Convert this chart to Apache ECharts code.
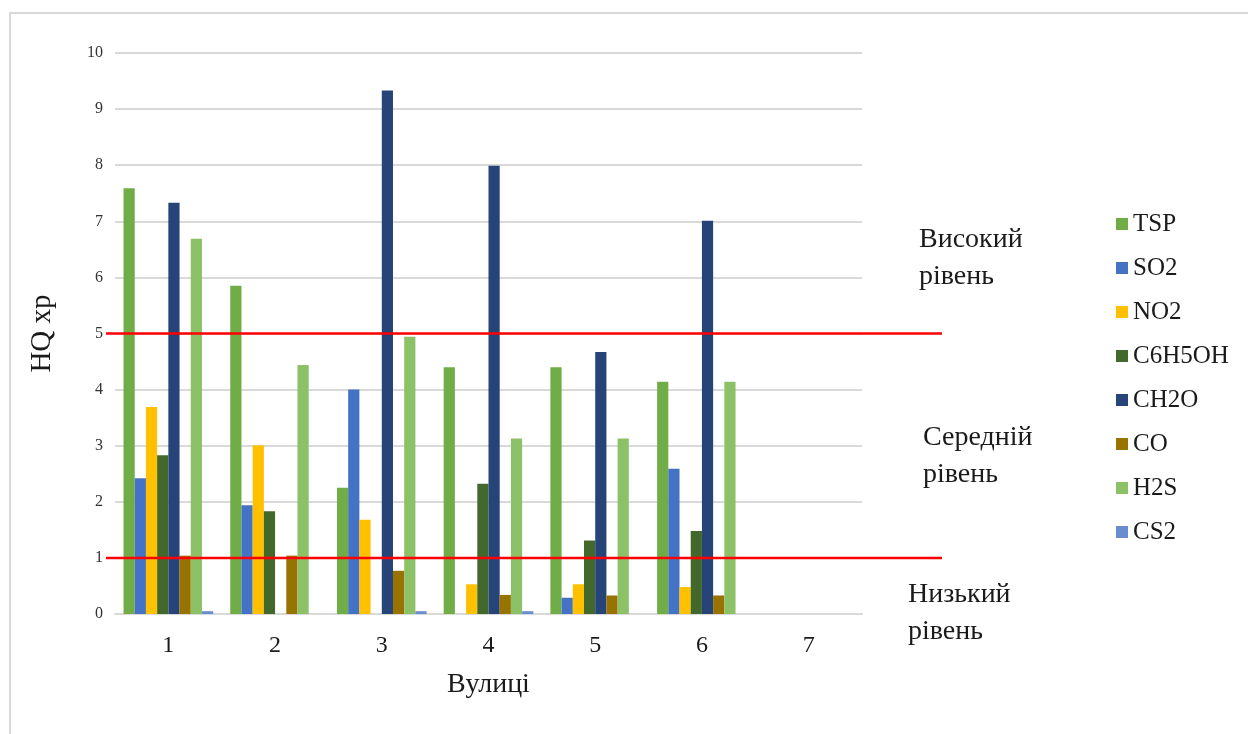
<!DOCTYPE html>
<html>
<head>
<meta charset="utf-8">
<script src="https://cdn.jsdelivr.net/npm/echarts@6/dist/echarts.min.js"></script>
<style>
html,body{margin:0;padding:0;background:#fff;}
#chart{width:1248px;height:734px;}
</style>
</head>
<body>
<div id="chart"></div>
<script>
var categories = ['1','2','3','4','5','6','7'];
var seriesNames = ['TSP','SO2','NO2','C6H5OH','CH2O','CO','H2S','CS2'];
var TSP    = [7.59, 5.85, 2.25, 4.40, 4.40, 4.14, 0];
var SO2    = [2.42, 1.94, 4.00, 0,    0.29, 2.59, 0];
var NO2    = [3.69, 3.01, 1.68, 0.53, 0.53, 0.48, 0];
var C6H5OH = [2.83, 1.83, 0,    2.32, 1.31, 1.48, 0];
var CH2O   = [7.33, 0,    9.33, 7.99, 4.67, 7.01, 0];
var CO     = [1.04, 1.04, 0.77, 0.34, 0.33, 0.33, 0];
var H2S    = [6.69, 4.44, 4.94, 3.13, 3.13, 4.14, 0];
var CS2    = [0.05, 0,    0.05, 0.05, 0,    0,    0];
var seriesValues = [TSP, SO2, NO2, C6H5OH, CH2O, CO, H2S, CS2];
var colors = ['#70AD47','#4472C4','#FFC000','#43682B','#264478','#997300','#8CC168','#698ED0'];
var yTicks = {min: 0, max: 10, interval: 1};
var thresholds = [5, 1];
var levelLabels = [
  {text: 'Високий\nрівень', value: 6.35, x: 919},
  {text: 'Середній\nрівень', value: 2.81, x: 923},
  {text: 'Низький\nрівень', value: 0.01, x: 908}
];

var FONT = '"Liberation Serif", "Times New Roman", serif';
var chart = echarts.init(document.getElementById('chart'), null, {renderer: 'canvas'});

var series = seriesNames.map(function (n, i) {
  return {
    name: n, type: 'bar', data: seriesValues[i],
    barGap: '0%', barCategoryGap: '16%',
    itemStyle: {color: colors[i]},
    emphasis: {disabled: true}
  };
});

var option = {
  animation: false,
  backgroundColor: '#fff',
  color: colors,
  grid: {left: 115, right: 386, top: 53, bottom: 120},
  legend: {
    orient: 'vertical', left: 1116, top: 211, padding: 0,
    icon: 'rect', itemWidth: 12, itemHeight: 12, itemGap: 18,
    textStyle: {fontFamily: FONT, fontSize: 25, color: '#1a1a1a', lineHeight: 26},
    data: seriesNames
  },
  xAxis: {
    type: 'category', data: categories,
    name: 'Вулиці', nameLocation: 'middle', nameGap: 57,
    nameTextStyle: {fontFamily: FONT, fontSize: 28, color: '#1a1a1a'},
    axisLine: {lineStyle: {color: '#d9d9d9', width: 2}},
    axisTick: {show: false},
    axisLabel: {fontFamily: FONT, fontSize: 24, color: '#1a1a1a', margin: 20}
  },
  yAxis: {
    type: 'value', min: yTicks.min, max: yTicks.max, interval: yTicks.interval,
    name: 'HQ xp', nameLocation: 'middle', nameGap: 58,
    nameTextStyle: {fontFamily: FONT, fontSize: 29, color: '#1a1a1a'},
    axisLine: {show: false}, axisTick: {show: false},
    axisLabel: {fontFamily: FONT, fontSize: 16, color: '#333', margin: 12},
    splitLine: {lineStyle: {color: '#d9d9d9', width: 2}}
  },
  series: series
};
chart.setOption(option);

var graphics = [
  {type: 'polyline', shape: {points: [[10, 734], [10, 13], [1248, 13]]}, style: {stroke: '#d9d9d9', lineWidth: 2, fill: null}, z: 100}
];
thresholds.forEach(function (t) {
  var y = chart.convertToPixel({yAxisIndex: 0}, t);
  graphics.push({type: 'line', shape: {x1: 106, y1: y, x2: 942, y2: y}, style: {stroke: '#ff0000', lineWidth: 2.5}, z: 100});
});
levelLabels.forEach(function (l) {
  var y = chart.convertToPixel({yAxisIndex: 0}, l.value);
  graphics.push({type: 'text', x: l.x, y: y, style: {text: l.text, fontFamily: FONT, fontSize: 28, lineHeight: 37, fill: '#1a1a1a', verticalAlign: 'middle', align: 'left'}, z: 100});
});
chart.setOption({graphic: graphics});
</script>
</body>
</html>
